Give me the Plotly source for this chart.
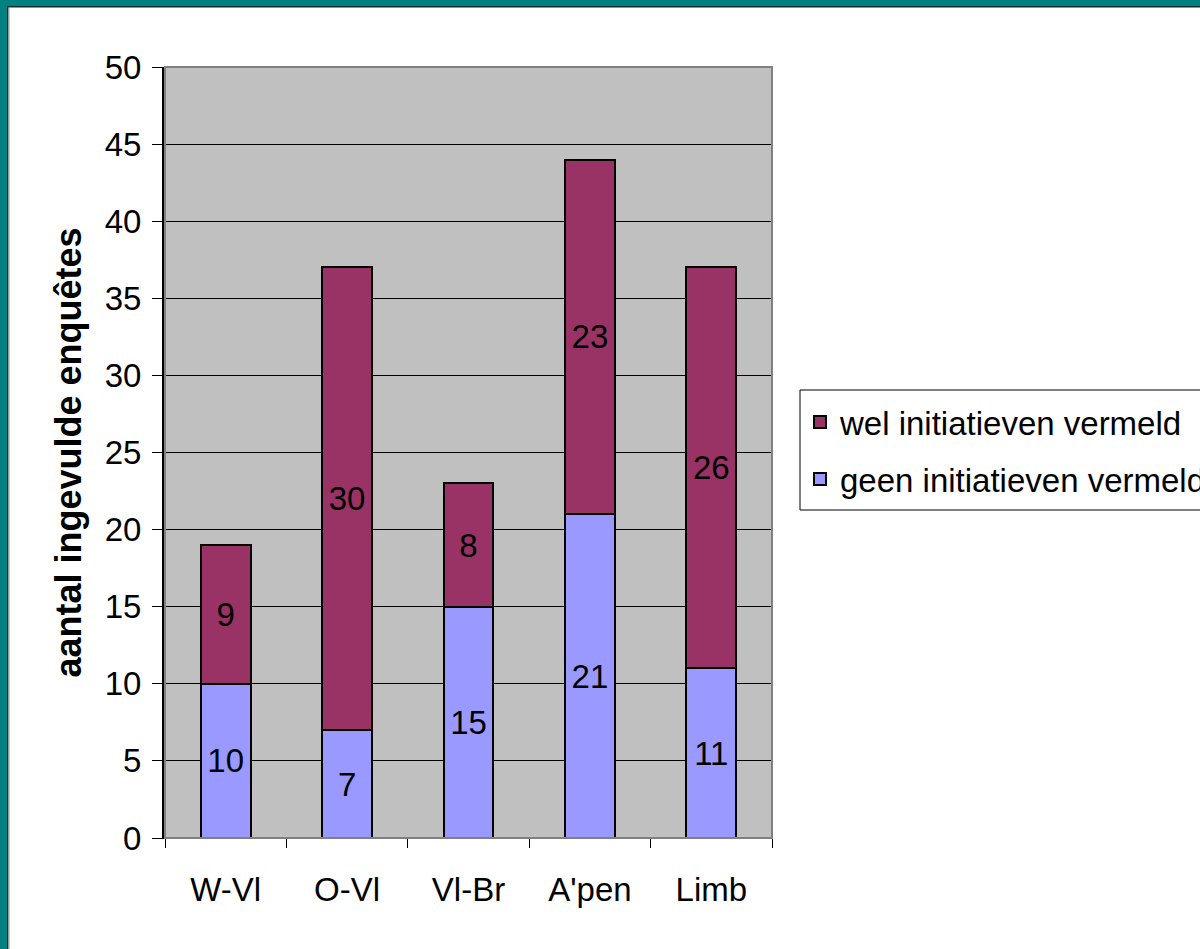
import plotly.graph_objects as go

categories = ["W-Vl", "O-Vl", "Vl-Br", "A'pen", "Limb"]
geen = [10, 7, 15, 21, 11]
wel = [9, 30, 8, 23, 26]
y_ticks = [0, 5, 10, 15, 20, 25, 30, 35, 40, 45, 50]

FONT = "Liberation Sans, Arial, sans-serif"
W, H = 1200, 949
L, R, T, B = 165, 428, 67, 111
PW, PH = W - L - R, H - T - B

def px2x(px):
    return (px - L) / PW

def px2y(py):
    return (H - B - py) / PH

fig = go.Figure()
fig.add_trace(go.Bar(
    x=categories, y=geen, name="geen initiatieven vermeld", legend="legend2",
    marker=dict(color="#9999FF", line=dict(color="black", width=2)),
    text=[str(v) for v in geen], textposition="inside", insidetextanchor="middle",
    textangle=0, textfont=dict(family=FONT, size=33, color="black"),
))
fig.add_trace(go.Bar(
    x=categories, y=wel, name="wel initiatieven vermeld", legend="legend",
    marker=dict(color="#993366", line=dict(color="black", width=2)),
    text=[str(v) for v in wel], textposition="inside", insidetextanchor="middle",
    textangle=0, textfont=dict(family=FONT, size=33, color="black"),
))

shapes = [
    # plot area border (gray top/right)
    dict(type="rect", xref="paper", yref="paper", x0=0, x1=1, y0=0, y1=1,
         line=dict(color="#808080", width=2), layer="above"),
    # legend frame
    dict(type="rect", xref="paper", yref="paper", x0=px2x(800), x1=px2x(1215),
         y0=px2y(510), y1=px2y(390), fillcolor="white",
         line=dict(color="black", width=1), layer="above"),
    # teal frame left and top
    dict(type="rect", xref="paper", yref="paper", x0=px2x(0), x1=px2x(7),
         y0=px2y(H), y1=px2y(0), fillcolor="#008080", line=dict(width=0), layer="above"),
    dict(type="rect", xref="paper", yref="paper", x0=px2x(0), x1=px2x(W),
         y0=px2y(6), y1=px2y(0), fillcolor="#008080", line=dict(width=0), layer="above"),
    dict(type="rect", xref="paper", yref="paper", x0=px2x(7), x1=px2x(8.5),
         y0=px2y(H), y1=px2y(6), fillcolor="#0b2f2f", line=dict(width=0), layer="above"),
    dict(type="rect", xref="paper", yref="paper", x0=px2x(7), x1=px2x(W),
         y0=px2y(7.5), y1=px2y(6), fillcolor="#0b2f2f", line=dict(width=0), layer="above"),
    dict(type="rect", xref="paper", yref="paper", x0=px2x(8.5), x1=px2x(9.5),
         y0=px2y(H), y1=px2y(7.5), fillcolor="#a0a0a0", line=dict(width=0), layer="above"),
]

legend_common = dict(
    xanchor="left", yanchor="middle", bgcolor="rgba(0,0,0,0)", borderwidth=0,
    font=dict(family=FONT, size=33, color="black"),
)

fig.update_layout(
    width=W, height=H,
    margin=dict(l=L, r=R, t=T, b=B, autoexpand=False),
    barmode="stack", bargap=0.59,
    plot_bgcolor="#C0C0C0", paper_bgcolor="white",
    font=dict(family=FONT, color="black", size=33),
    uniformtext=dict(minsize=33, mode="show"),
    showlegend=True,
    legend=dict(x=px2x(800), y=px2y(422), **legend_common),
    legend2=dict(x=px2x(800), y=px2y(479), **legend_common),
    shapes=shapes,
    xaxis=dict(
        showgrid=False, showline=True, linecolor="black", linewidth=1,
        ticks="outside", tickson="boundaries", ticklen=9, tickcolor="black",
        tickfont=dict(family=FONT, size=33), ticklabelstandoff=22,
    ),
    yaxis=dict(
        range=[0, 50], tickvals=y_ticks, ticktext=[str(v) for v in y_ticks],
        showgrid=True, gridcolor="black", gridwidth=1,
        showline=True, linecolor="black", linewidth=3,
        ticks="outside", ticklen=10, tickcolor="black",
        tickfont=dict(family=FONT, size=33), ticklabelstandoff=4,
        zeroline=False,
        title=dict(text="<b>aantal ingevulde enquêtes</b>",
                   font=dict(family=FONT, size=36), standoff=13),
    ),
)

fig.write_html("out.html", config={"displayModeBar": False},
               post_script="document.body.style.margin='0px';")
